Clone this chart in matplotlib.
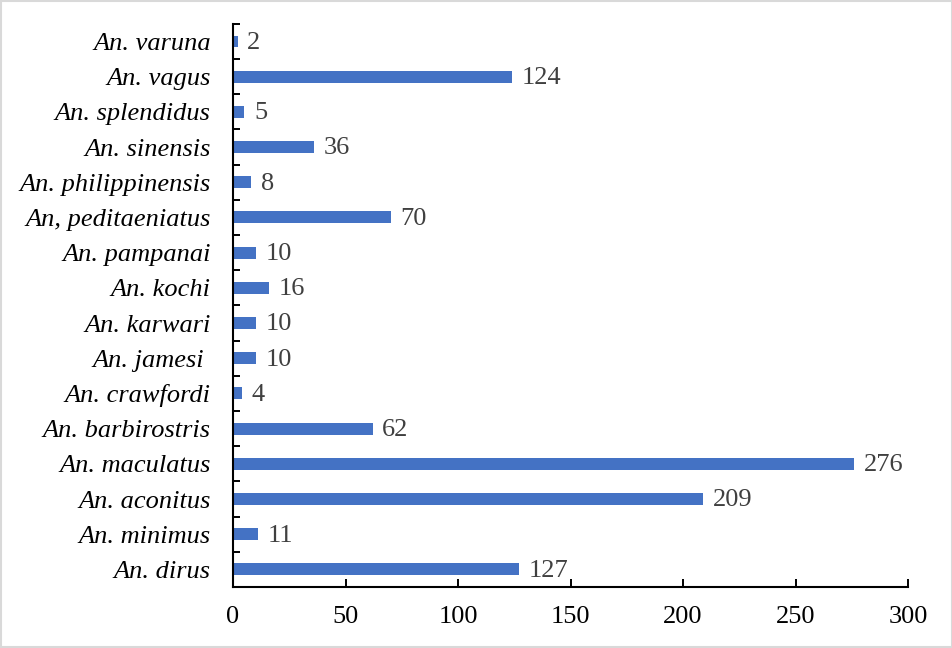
import matplotlib.pyplot as plt
import numpy as np
from matplotlib.patches import Rectangle

species = [
    "An. dirus", "An. minimus", "An. aconitus", "An. maculatus",
    "An. barbirostris", "An. crawfordi", "An. jamesi ", "An. karwari",
    "An. kochi", "An. pampanai", "An, peditaeniatus", "An. philippinensis",
    "An. sinensis", "An. splendidus", "An. vagus", "An. varuna",
]
counts = [127, 11, 209, 276, 62, 4, 10, 10, 16, 10, 70, 8, 36, 5, 124, 2]
xticks = [0, 50, 100, 150, 200, 250, 300]

plt.rcParams["font.family"] = ["Liberation Serif", "DejaVu Serif"]

fig = plt.figure(figsize=(9.53, 6.48), dpi=100)
ax = fig.add_axes([0.2445, 0.0941, 0.7083, 0.869])

y = np.arange(len(species))
ax.barh(y, counts, height=0.34, color="#4472C4")

for yi, v in zip(y, counts):
    ax.annotate(str(v), (v, yi), xytext=(7, -1), textcoords="offset points",
                ha="left", va="center", fontsize=19, color="#404040")

ax.set_xlim(0, 300)
ax.set_ylim(-0.5, len(species) - 0.5)
ax.set_xticks(xticks)
ax.set_xticklabels([str(t) for t in xticks], fontsize=19)
ax.set_yticks(y)
ax.set_yticklabels(species, fontsize=19, fontstyle="italic")
ax.set_yticks(np.arange(-0.5, len(species)), minor=True)

ax.tick_params(axis="y", which="major", length=0, pad=16)
ax.tick_params(axis="y", which="minor", direction="in", length=5, width=1.4)
ax.tick_params(axis="x", direction="in", length=5.5, width=1.4, pad=14)

for s in ["top", "right"]:
    ax.spines[s].set_visible(False)
for s in ["left", "bottom"]:
    ax.spines[s].set_linewidth(1.5)

fig.patches.append(Rectangle((0.001, 0.001), 0.998, 0.997, transform=fig.transFigure,
                             fill=False, edgecolor="#d9d9d9", linewidth=1.5))

fig.savefig("out.png", dpi=100)
